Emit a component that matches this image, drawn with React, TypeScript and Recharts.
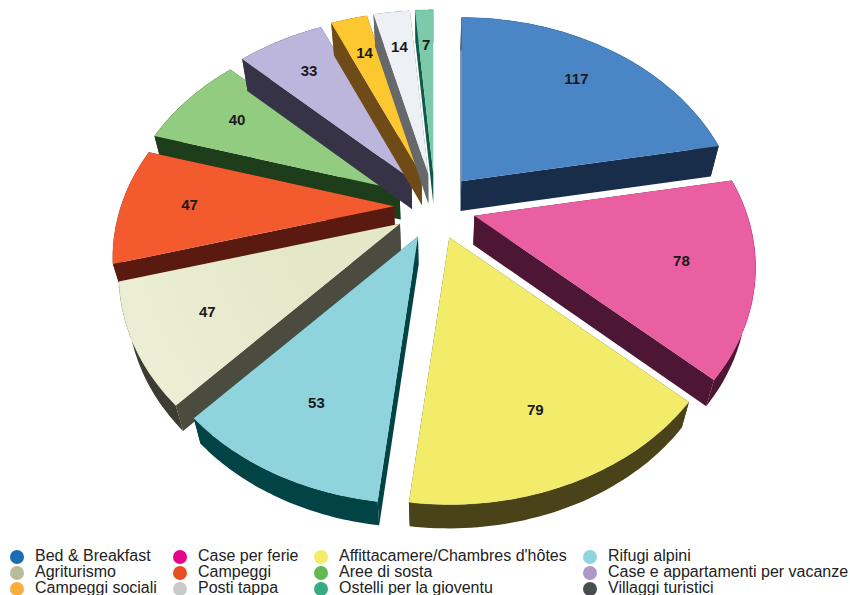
import React from 'react';
import { PieChart, Pie, Legend } from 'recharts';

const categories = [
  'Bed & Breakfast',
  'Case per ferie',
  "Affittacamere/Chambres d'hôtes",
  'Rifugi alpini',
  'Agriturismo',
  'Campeggi',
  'Aree di sosta',
  'Case e appartamenti per vacanze',
  'Campeggi sociali',
  'Posti tappa',
  'Ostelli per la gioventu',
  'Villaggi turistici',
];
const values = [117, 78, 79, 53, 47, 47, 40, 33, 14, 14, 7, 0];

const legendColors = ['#1b6bb5', '#e5058b', '#f3ec6a', '#8dd5df', '#b9bb99', '#e84e24', '#62b851', '#ae97c9', '#fbae3c', '#c9cacc', '#35ac82', '#4b4c50'];
const topColors = ['#4a86c5', '#ea5fa1', '#f3ec6a', '#8fd4dd', '#e5e7c9', '#f35a2e', '#92cc80', '#bdb6dc', '#fdc82f', '#edf1f5', '#7ccaa9', '#4b4c50'];
const rimColors = ['#4a86c5', '#ea5fa1', '#f3ec6a', '#8fd4dd', '#eceed4', '#f35a2e', '#92cc80', '#bdb6dc', '#fdc82f', '#edf1f5', '#7ccaa9', '#4b4c50'];
const wallColors = ['#182d49', '#4d1634', '#4a431a', '#024346', '#4b4b3f', '#5a1a10', '#1e3d1b', '#373347', '#6f4c17', '#66686b', '#0f5a4a', '#222222'];
const outerWallColors = ['#182d49', '#4d1634', '#4a431a', '#024346', '#3c3c32', '#5a1a10', '#1e3d1b', '#373347', '#6f4c17', '#66686b', '#0f5a4a', '#222222'];

// back slices first, later ones overlap the walls of the earlier ones
const drawOrder = [6, 7, 8, 9, 10, 5, 4, 0, 1, 3, 2, 11];

const legendCols = [
  { dot: 17, text: 35 },
  { dot: 180, text: 198 },
  { dot: 321, text: 339 },
  { dot: 590, text: 608 },
];

const pieData = categories.map((name, i) => ({ name, value: values[i] }));

const RX = 273;
const RY = 203;
const PERSP = 0.24;
const EXPLODE_X = 41;
const EXPLODE_Y = 33;
const DEPTH_X = 0.028;
const DEPTH_Y = 0.0184;
const VANISH_X = 435;
const VANISH_Y = 1800;

const RAD = Math.PI / 180;

// angle in degrees as recharts gives it, r is 0..1 of the radius
function project(cx: number, cy: number, mid: number, angle: number, r: number) {
  const mu = Math.cos(mid * RAD);
  const mv = -Math.sin(mid * RAD);
  const ax = cx + EXPLODE_X * mu;
  const ay = cy + EXPLODE_Y * mv;
  const u = Math.cos(angle * RAD);
  const v = -Math.sin(angle * RAD);
  const s = 1 / (1 - PERSP * r * v);
  return { x: ax + RX * r * u * s, y: ay + RY * r * v * s };
}

function drop(p: { x: number; y: number }) {
  return { x: p.x + DEPTH_X * (VANISH_X - p.x), y: p.y + DEPTH_Y * (VANISH_Y - p.y) };
}

function toPath(points: { x: number; y: number }[]) {
  return points.map((p, i) => `${i ? 'L' : 'M'}${p.x.toFixed(1)} ${p.y.toFixed(1)}`).join(' ') + ' Z';
}

function Slice3D(props: any) {
  const { cx, cy, startAngle, endAngle, midAngle, name } = props;
  const idx = categories.indexOf(name);
  if (endAngle === startAngle) return null;
  const mid = midAngle ?? (startAngle + endAngle) / 2;
  const rim: { x: number; y: number }[] = [];
  const steps = 48;
  for (let i = 0; i <= steps; i++) {
    rim.push(project(cx, cy, mid, startAngle + ((endAngle - startAngle) * i) / steps, 1));
  }
  const apex = project(cx, cy, mid, mid, 0);
  const first = rim[0];
  const last = rim[rim.length - 1];
  const wall = wallColors[idx];
  const gradId = `top-${idx}`;
  return (
    <g>
      <defs>
        <radialGradient id={gradId} gradientUnits="userSpaceOnUse" cx={apex.x} cy={apex.y} r={RX}>
          <stop offset="0.4" stopColor={topColors[idx]} />
          <stop offset="1" stopColor={rimColors[idx]} />
        </radialGradient>
      </defs>
      <path d={toPath([apex, first, drop(first), drop(apex)])} fill={wall} />
      <path d={toPath([apex, last, drop(last), drop(apex)])} fill={wall} />
      <path d={toPath([...rim, ...rim.map(drop).reverse()])} fill={outerWallColors[idx]} />
      <path d={toPath([apex, ...rim])} fill={`url(#${gradId})`} />
      <path
        d={rim.map((p, i) => `${i ? 'L' : 'M'}${p.x.toFixed(1)} ${p.y.toFixed(1)}`).join(' ')}
        fill="none"
        stroke={legendColors[idx]}
        strokeOpacity={0.25}
        strokeWidth={1}
      />
    </g>
  );
}

function ValueLabel(props: any) {
  const { cx, cy, midAngle, value } = props;
  if (!value) return null;
  const p = project(cx, cy, midAngle, midAngle, 0.75);
  return (
    <text x={p.x} y={p.y} textAnchor="middle" dominantBaseline="central" fontFamily="Liberation Sans" fontWeight="bold" fontSize={15} fill="#1a1a1a">
      {value}
    </text>
  );
}

function ChartLegend() {
  return (
    <div style={{ position: 'relative', width: 850, height: 60, fontFamily: 'Liberation Sans', fontSize: 16, color: '#222' }}>
      {categories.map((name, i) => {
        const col = legendCols[i % 4];
        const top = 6 + Math.floor(i / 4) * 16;
        return (
          <React.Fragment key={name}>
            <span style={{ position: 'absolute', left: col.dot - 7, top: top + 4, width: 14, height: 14, borderRadius: 7, background: legendColors[i] }} />
            <span style={{ position: 'absolute', left: col.text, top, lineHeight: '20px', whiteSpace: 'nowrap' }}>{name}</span>
          </React.Fragment>
        );
      })}
    </div>
  );
}

export default function App() {
  return (
    <div style={{ position: 'absolute', left: 0, top: 0, width: 850, height: 595, overflow: 'hidden', background: '#fff' }}>
      <PieChart width={850} height={595} margin={{ top: 0, right: 0, bottom: 0, left: 0 }}>
        {drawOrder.map((k, n) => (
          <Pie
            key={k}
            data={pieData}
            dataKey="value"
            nameKey="name"
            cx={435}
            cy={206.5}
            outerRadius={RX}
            startAngle={90}
            endAngle={-270}
            stroke="none"
            isAnimationActive={false}
            shape={(p: any) => (p.name === categories[k] ? <Slice3D {...p} /> : <g />)}
            label={n === drawOrder.length - 1 ? ValueLabel : false}
            labelLine={false}
          />
        ))}
        <Legend content={<ChartLegend />} wrapperStyle={{ position: 'absolute', left: 0, top: 540, width: 850 }} />
      </PieChart>
    </div>
  );
}
